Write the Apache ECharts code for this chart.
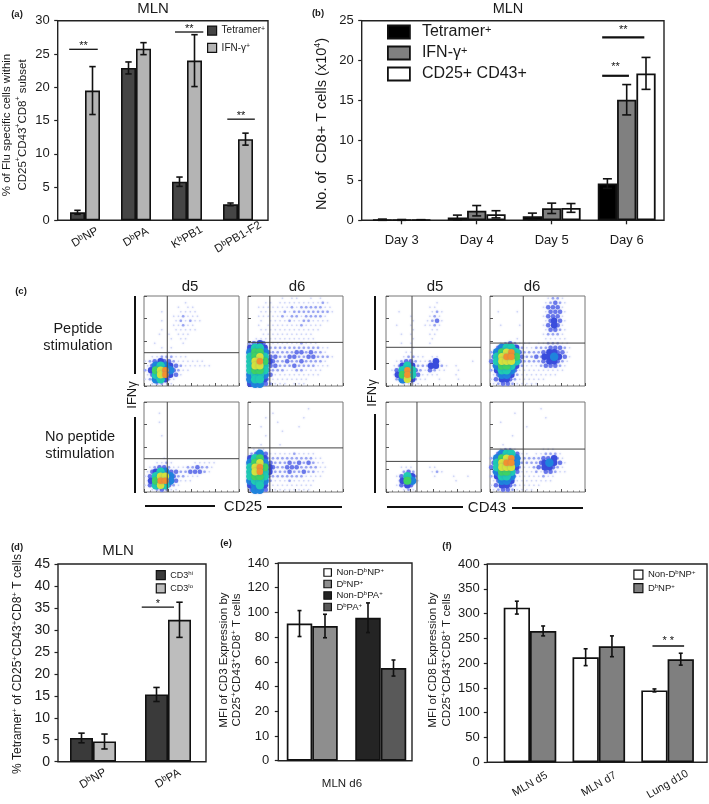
<!DOCTYPE html>
<html><head><meta charset="utf-8">
<style>html,body{margin:0;padding:0;background:#fff}#c{width:709px;height:804px}</style>
<script src="https://cdn.jsdelivr.net/npm/echarts@6/dist/echarts.min.js"></script>
</head><body><div id="c"></div>
<script>
// ---------- Panel (a)
const aCats = ['DbNP','DbPA','KbPB1','DbPB1-F2'];
const aTetramer = [1.2,22.9,5.8,2.4];
const aTetramerErr = [0.3,0.9,0.7,0.2];
const aIfn = [19.5,25.8,24,12.2];
const aIfnErr = [3.6,0.9,3.9,0.9];
// ---------- Panel (b)
const bCats = ['Day 3','Day 4','Day 5','Day 6'];
const bTetramer = [0.05,0.35,0.5,4.6];
const bTetramerErr = [0.1,0.3,0.4,0.6];
const bIfn = [0.05,1.2,1.5,15.1];
const bIfnErr = [0.05,0.65,0.65,1.9];
const bCd = [0.05,0.75,1.55,18.4];
const bCdErr = [0.03,0.45,0.55,2.0];
// ---------- Panel (d)
const dCats = ['DbNP','DbPA'];
const dHi = [5.4,15.3];
const dHiErr = [1.1,1.6];
const dLo = [4.6,32.3];
const dLoErr = [1.7,4];
// ---------- Panel (e)  (the printed axis is 0,10,20,40,... at equal spacing)
const eCats = ['MLN d6 NP','MLN d6 PA'];
const eTickLabels = ['0','10','20','40','60','80','100','120','140'];
const eNonNP = [91,null], eNonNPErr = [10.5,null];
const eNP = [89,null], eNPErr = [9.5,null];
const eNonPA = [null,95.7], eNonPAErr = [null,12];
const ePA = [null,55], ePAErr = [null,6.5];
// ---------- Panel (f)
const fCats = ['MLN d5','MLN d7','Lung d10'];
const fNon = [312,212,145];
const fNonErr = [13,17,3];
const fNP = [265,234,208];
const fNPErr = [10,21,12];
// ---------- Panel (c): quadrant percentages [upper-left, upper-right, lower-right]
const cPct = [['0.4','2.1','3.8'],['0.8','2.1','4.1'],['0.3','0.1','13'],['0.3','0.3','8.0'],
              ['0.6','1.6','4.3'],['0.3','1.7','6.8'],['0.4','0.2','7.5'],['0.2','0.4','11']];
// gates [vertical x, horizontal y], as axis fractions
const cGates = [[.245,.37],[.23,.485],[.245,.37],[.23,.49],[.274,.43],[.35,.477],[.326,.34],[.35,.477]];
// density, digit 0-9, top row first
const cD5PepCD25 = ['00000000000000000000','00000000100000000000','00000001011000000000','00010001111000000000','00000011211100000000','00010012121100000000','00000011211000000000','00010011111000000000','00010101110000000000','00000101100000000000','00100000100000000000','00010100000000000000','00000100000000000000','01122211100000000000','12343321111110000000','13565432111111000000','24789532110000000000','13689431000000000000','12564210000000000000','01221100000000000000'];
const cD6PepCD25 = ['00000001011001010000','00011011111111121000','00111111121222221100','00111112122222222100','00111112122122221000','00101111211221111000','00101111111211110000','00111111111111100000','00011111111111000000','01111111111111000000','23431111111211100000','46642222222222211000','57753222223323221000','67863322332233222100','68974322322322221000','68863322232222111000','67763222112211110000','56653111111111100000','56642111111110000000','45532111011100000000'];
const cD5NoCD25 = ['00000000000000000000','00000000000000000000','00010000000000000000','00000000000000000000','00010000000000000000','00000000000000000000','00000000000000000000','00010000000000000000','00000000000000000000','00000000000000000000','00000000000000000000','00000000000000000000','00001000000000000000','00112100001111100000','01233211122322100000','13465332233321000000','13688532211100000000','14799531110000000000','13686321000000000000','01232110000000000000'];
const cD6NoCD25 = ['00000000000000000000','00000000000010000000','00000100000000000000','00010000000100000000','00000010000000000000','00100000001000000000','00000001000000000000','00010000000000000000','00000000000000000000','00100010000000000000','01110000000000000000','23531111121111000000','46742222222222110000','57853222323232110000','68974322333222211000','68964222322322110000','67763222222211110000','56652111211111000000','45641111111111000000','35531111111110000000'];
const cD5PepCD43 = ['00000000000000000000','00000000001000000000','00000000011000000000','00100000012100000000','00000100012100000000','00000100123100000000','00100100112100000000','00000100011000000000','00010100011000000000','00000100010000000000','00010100010000000000','00000100000000000000','00001100000000000000','00012211011000000000','00123321124100000010','01246422244210100000','01369632132110010000','01479631111000100000','00258421100100010000','00011110000000000000'];
const cD6PepCD43 = ['00000000000012210000','00000000000123210000','00000000000133310000','01000100000133310000','00000000000133310000','00000000000134310000','00100010000134310000','00000000000133210000','00000000000122210000','00000100000111110000','00123211101122211000','03566421122233321000','25789632222344331000','36899732232445431000','36888632222344321000','25776421112333210000','24665311111111110000','13554211111111000000','13443211111100000000','12332111110000000000'];
const cD5NoCD43 = ['00000000000000000000','00000000000000000000','00000000000000000000','00000000000000000000','00000000000000000000','00000000000000000000','00000000000000000000','00000000000000000000','00000000000000000000','00000000000000000000','00000000000000000000','00000000000000000000','00000000000000000000','00000000000000000000','00011100011000000000','00023200012100000000','00136420001000100100','00147510000000100000','00134300000000000000','00012100000000000000'];
const cD6NoCD43 = ['00000000000000000000','00000000001000000000','00000100000000000000','00000000000100000000','00100000000000000000','00000001000000000000','00000000000000000000','00001000000000000000','00000000000000000000','00100000000000000000','00122100000111000000','03566311011222100000','25789522222334210000','36899522223454310000','36888421123443210000','25776311121332110000','24665211111211000000','13554111111110000000','13443211111000000000','12332111100000000000'];
const cDensities = [cD5PepCD25,cD6PepCD25,cD5NoCD25,cD6NoCD25,cD5PepCD43,cD6PepCD43,cD5NoCD43,cD6NoCD43];

// ---------- rendering helpers
const FONT = 'Liberation Sans';
const RICH = {
  'DbNP':'D{sup|b}NP','DbPA':'D{sup|b}PA','KbPB1':'K{sup|b}PB1','DbPB1-F2':'D{sup|b}PB1-F2',
  'Tetramer+':'Tetramer{sup|+}','IFN-γ+':'IFN-γ{sup|+}',
  'CD3hi':'CD3{sup|hi}','CD3lo':'CD3{sup|lo}',
  'Non-DbNP+':'Non-D{sup|b}NP{sup|+}','DbNP+':'D{sup|b}NP{sup|+}',
  'Non-DbPA+':'Non-D{sup|b}PA{sup|+}','DbPA+':'D{sup|b}PA{sup|+}'
};
// every run of plain text becomes a {t|...} token so that it carries the font
const wrap = s => s.split(/(\{sup\|[^}]*\})/).map(p=>(!p||p.startsWith('{sup'))?p:'{t|'+p+'}').join('');
const rich = s => wrap(RICH[s.trim()] || s.trim());
const richStyle = (size,supSize) => ({
  t:{fontSize:size,fontFamily:FONT,color:'#1a1a1a'},
  sup:{fontSize:supSize||Math.round(size*.68),fontFamily:FONT,verticalAlign:'top',lineHeight:supSize||Math.round(size*.68),color:'#1a1a1a'}});

const grids=[],xAxes=[],yAxes=[],series=[],legends=[],graphics=[];

function text(t,x,y,o){ o=o||{};
  const size=o.size||13;
  graphics.push({type:'text',x:x,y:y,rotation:o.rot||0,z:20,silent:true,
    style:{text:t,fontFamily:FONT,fontSize:size,fontWeight:o.weight||'normal',fill:o.fill||'#1a1a1a',
      align:o.align||'center',verticalAlign:'middle',textAlign:o.align||'center',textVerticalAlign:'middle',
      lineHeight:o.lh||Math.round(size*1.2),
      rich:{sup:{fontSize:o.sup||Math.round(size*.65),fontFamily:FONT,verticalAlign:'top',lineHeight:o.sup||Math.round(size*.65),fill:'#1a1a1a'}}}});
}
function line(x1,y1,x2,y2,w){
  graphics.push({type:'line',z:20,silent:true,shape:{x1,y1,x2,y2},style:{stroke:'#111',lineWidth:w||2}});
}
function barPanel(p){
  const i=grids.length, f=p.frame;
  grids.push({left:p.gridLeft,width:p.gridWidth,top:f.t,height:f.b-f.t,show:false});
  graphics.push({type:'rect',z:1,silent:true,shape:{x:f.l,y:f.t,width:f.r-f.l,height:f.b-f.t},
    style:{fill:'none',stroke:'#222',lineWidth:p.frameW||1.4}});
  xAxes.push({gridIndex:i,type:'category',data:p.cats,axisLine:{show:false},
    axisTick:{show:!!p.xTicks,length:4,alignWithLabel:true,lineStyle:{color:'#222',width:1.3}},
    axisLabel:p.xLabel?Object.assign({interval:0,hideOverlap:false,fontFamily:FONT,color:'#1a1a1a',
      formatter:v=>rich(v),rich:richStyle(p.xLabel.fontSize||11)},p.xLabel):{show:false}});
  yAxes.push({gridIndex:i,type:'value',min:0,max:p.yMax,interval:p.interval,offset:p.gridLeft-f.l,
    axisLine:{show:false},splitLine:{show:false},
    axisTick:{show:true,length:3.5,lineStyle:{color:'#222',width:1.2}},
    axisLabel:{fontFamily:FONT,fontSize:p.yFont||13,color:'#1a1a1a',margin:p.yMargin||8,
      formatter:p.tickLabels?(v=>p.tickLabels[Math.round(v/p.interval)]):undefined}});
  const n=p.slots||p.series.length;
  p.series.forEach((s,k)=>{
    const slot=s.slot!==undefined?s.slot:k;
    series.push({type:'bar',name:s.name,xAxisIndex:i,yAxisIndex:i,data:s.data,stack:s.stack,barWidth:p.barW,barGap:0,z:3,
      itemStyle:{color:s.color,borderColor:'#111',borderWidth:p.barBorder||1.6},silent:true});
    const offs=(slot-(n-1)/2)*p.barW;
    series.push({type:'custom',xAxisIndex:i,yAxisIndex:i,z:5,clip:false,silent:true,
      encode:{x:0,y:1},
      data:s.data.map((v,c)=>v==null?null:[c,v,s.err[c]]).filter(Boolean),
      renderItem:(params,api)=>{
        const c=api.value(0),v=api.value(1),e=api.value(2);
        const a=api.coord([c,v-e<0?0:v-e]),b=api.coord([c,v+e]);
        const x=a[0]+offs,h=p.capW||3.2,st={stroke:'#111',lineWidth:p.errW||1.6,fill:'none'};
        return {type:'group',children:[
          {type:'line',shape:{x1:x,y1:a[1],x2:x,y2:b[1]},style:st},
          {type:'line',shape:{x1:x-h,y1:a[1],x2:x+h,y2:a[1]},style:st},
          {type:'line',shape:{x1:x-h,y1:b[1],x2:x+h,y2:b[1]},style:st}]};
      }});
  });
  (p.sig||[]).forEach(g=>{
    series.push({type:'custom',xAxisIndex:i,yAxisIndex:i,z:6,clip:false,silent:true,encode:{x:0,y:1},
      data:[[g.cat,g.y]],
      renderItem:(params,api)=>{
        const o=api.coord([api.value(0),api.value(1)]),w=api.size([1,0])[0];
        const x1=o[0]+g.from*w,x2=o[0]+g.to*w;
        return {type:'group',children:[
          {type:'line',shape:{x1:x1,y1:o[1],x2:x2,y2:o[1]},style:{stroke:'#111',lineWidth:g.w||1.3}},
          {type:'text',x:(x1+x2)/2,y:o[1]-(g.dy||3),style:{text:g.label,fontFamily:FONT,fontSize:g.size||11,fill:'#111',align:'center',verticalAlign:'middle',textAlign:'center',textVerticalAlign:'middle'}}]};
      }});
  });
  if(p.legend){ const L=p.legend;
    legends.push({left:L.left,top:L.top,orient:'vertical',padding:0,itemWidth:L.w,itemHeight:L.h,itemGap:L.gap,icon:'rect',selectedMode:false,
      data:p.series.map(s=>({name:s.name,icon:'rect',itemStyle:{color:s.color,borderColor:'#111',borderWidth:L.bw||1.2,opacity:1}})),
      formatter:n=>rich(n),
      textStyle:{fontFamily:FONT,fontSize:L.font,color:'#1a1a1a',padding:[0,0,0,L.pad||0],rich:richStyle(L.font)}});
  }
}
const LEVEL_COLORS=['','#cdd4f8','#98a4f2','#6a78ea','#3a4ddc','#1f84dc','#1fcbb2','#3ed264','#d4e23c','#f29030'];
const LEVEL_SIZES=[0,1.6,2.6,4.5,6.5,8.5,8.5,8,7.5,6.5];
function flowPanel(idx,l,t,w,h,pctRow){
  const i=grids.length;
  grids.push({left:l,top:t,width:w,height:h,show:true,borderColor:'#777',borderWidth:1,backgroundColor:'#fff'});
  const ax={gridIndex:i,type:'value',min:0,max:1,interval:.25,axisLine:{show:false},splitLine:{show:false},axisLabel:{show:false},
    axisTick:{show:true,inside:true,length:3,lineStyle:{color:'#555',width:1}}};
  xAxes.push(Object.assign({},ax,{minorTick:{show:true,splitNumber:4,length:1.5,lineStyle:{color:'#777'}}}));
  yAxes.push(Object.assign({},ax));
  const rows=cDensities[idx],pts=[];
  rows.forEach((r,ry)=>{ r.split('').forEach((ch,cx)=>{
    const lv=+ch; if(!lv) return;
    const stagger=(ry%2)?.25:-.25;
    pts.push([Math.min(.995,Math.max(.005,(cx+.5+(lv<4?stagger:0))/20)),1-(ry+.5)/20,lv]);
  });});
  pts.sort((a,b)=>a[2]-b[2]);
  series.push({type:'scatter',xAxisIndex:i,yAxisIndex:i,data:pts,z:2,silent:true,large:false,progressive:0,clip:true,
    symbolSize:d=>LEVEL_SIZES[d[2]],itemStyle:{color:q=>LEVEL_COLORS[q.data[2]],opacity:1,
      shadowBlur:2,shadowColor:'rgba(60,80,220,.3)'}});
  const g=cGates[idx];
  series.push({type:'custom',xAxisIndex:i,yAxisIndex:i,z:4,silent:true,encode:{x:0,y:1},data:[g],
    renderItem:(params,api)=>{
      const gx=api.value(0),gy=api.value(1),s={stroke:'#444',lineWidth:1};
      const a=api.coord([gx,0]),b=api.coord([gx,1]),c=api.coord([0,gy]),d=api.coord([1,gy]);
      return {type:'group',children:[{type:'line',shape:{x1:a[0],y1:a[1],x2:b[0],y2:b[1]},style:s},{type:'line',shape:{x1:c[0],y1:c[1],x2:d[0],y2:d[1]},style:s}]};
    }});
  const topY=pctRow?.92:.89, lowY=pctRow?.12:.11, pv=cPct[idx];
  const lab=(val,x,y,al)=>({value:[x,y],label:{show:true,formatter:val,position:'inside',align:al,fontFamily:FONT,fontSize:11,color:'#1a1a1a'}});
  series.push({type:'scatter',xAxisIndex:i,yAxisIndex:i,z:6,silent:true,symbolSize:1,itemStyle:{opacity:0},
    data:[lab(pv[0],.045,topY,'left'),lab(pv[1],.965,topY,'right'),lab(pv[2],.965,lowY,'right')]});
}

// ---------- panels
barPanel({frame:{l:57.7,r:268,t:20.7,b:220.3},gridLeft:59.5,gridWidth:204,cats:aCats,yMax:30,interval:5,yFont:13,yMargin:8,barW:15,
  xLabel:{rotate:30,align:'center',verticalAlign:'middle',fontSize:11.5,margin:17},
  series:[{name:'Tetramer+',data:aTetramer,err:aTetramerErr,color:'#454545'},{name:'IFN-γ+',data:aIfn,err:aIfnErr,color:'#b4b4b4'}],
  sig:[{cat:0,y:25.7,from:-.31,to:.25,label:'**'},{cat:2,y:28.3,from:-.235,to:.32,label:'**'},{cat:3,y:15.2,from:-.21,to:.33,label:'**'}],
  legend:{left:207,top:25.5,w:9,h:9,gap:7,font:10,pad:0}});
barPanel({frame:{l:361.7,r:664,t:20.7,b:220.3},gridLeft:364.2,gridWidth:300,cats:bCats,yMax:25,interval:5,yFont:13,yMargin:8,barW:19.3,barBorder:1.8,capW:4.5,
  xLabel:{fontSize:13,margin:14},xTicks:true,
  series:[{name:'Tetramer+ ',data:bTetramer,err:bTetramerErr,color:'#000'},{name:'IFN-γ+ ',data:bIfn,err:bIfnErr,color:'#808080'},{name:'CD25+ CD43+',data:bCd,err:bCdErr,color:'#fff'}],
  sig:[{cat:3,y:22.9,from:-.327,to:.235,label:'**',w:2.2,dy:7},{cat:3,y:18.1,from:-.327,to:.03,label:'**',w:2.2,dy:9}],
  legend:{left:387,top:24,w:22,h:13,gap:5,font:16,pad:7,bw:1.8}});
barPanel({frame:{l:58,r:206,t:564,b:761.7},gridLeft:55.5,gridWidth:150,cats:dCats,yMax:45,interval:5,yFont:14,yMargin:8,barW:23,
  xLabel:{rotate:30,align:'center',verticalAlign:'middle',fontSize:11.5,margin:17},
  series:[{name:'CD3hi',data:dHi,err:dHiErr,color:'#3a3a3a'},{name:'CD3lo',data:dLo,err:dLoErr,color:'#bdbdbd'}],
  sig:[{cat:1,y:35.2,from:-.35,to:.08,label:'*'}],
  legend:{left:155.7,top:570,w:9,h:9,gap:3,font:9,pad:0}});
const eMap=v=>v==null?null:(v>=20?v+20:v*2);
const eErr=(v,e)=>v==null?null:eMap(v+e)-eMap(v);
barPanel({frame:{l:278.3,r:412,t:563,b:760.7},gridLeft:278,gridWidth:137,cats:eCats,yMax:160,interval:20,tickLabels:eTickLabels,yFont:13,yMargin:9,barW:25.5,slots:2,barBorder:1.7,capW:2,
  series:[{name:'Non-DbNP+',data:eNonNP.map(eMap),err:eNonNP.map((v,c)=>eErr(v,eNonNPErr[c])),color:'#fff',stack:'L',slot:0},
          {name:'DbNP+',data:eNP.map(eMap),err:eNP.map((v,c)=>eErr(v,eNPErr[c])),color:'#8e8e8e',stack:'R',slot:1},
          {name:'Non-DbPA+',data:eNonPA.map(eMap),err:eNonPA.map((v,c)=>eErr(v,eNonPAErr[c])),color:'#242424',stack:'L',slot:0},
          {name:'DbPA+',data:ePA.map(eMap),err:ePA.map((v,c)=>eErr(v,ePAErr[c])),color:'#595959',stack:'R',slot:1}],
  legend:{left:323.3,top:567.5,w:7.5,h:7.5,gap:1.5,font:9.5,pad:0}});
barPanel({frame:{l:487.3,r:707,t:564,b:762.3},gridLeft:495.6,gridWidth:206.4,cats:fCats,yMax:400,interval:50,yFont:13,yMargin:7.5,barW:26.3,barBorder:1.7,capW:2,
  xLabel:{rotate:30,align:'center',verticalAlign:'middle',fontSize:11,margin:22},
  series:[{name:'Non-DbNP+ ',data:fNon,err:fNonErr,color:'#fff'},{name:'DbNP+ ',data:fNP,err:fNPErr,color:'#7f7f7f'}],
  sig:[{cat:2,y:234.6,from:-.22,to:.24,label:'* *',dy:5}],
  legend:{left:633.3,top:569.5,w:9,h:9,gap:3.3,font:9.5,pad:0}});

// flow plots
[[144,296,0],[248,296,0],[144,402,1],[248,402,1],[386,296,0],[490,296,0],[386,402,1],[490,402,1]].forEach((q,k)=>flowPanel(k,q[0],q[1],95,90,q[2]));

// titles, axis captions
text('MLN',153,9,{size:15});
text('MLN',508,9,{size:14.5});
text('MLN',118,551,{size:15});
[['(a)',17,14],['(b)',318,13],['(c)',21,291],['(d)',17,547],['(e)',226,543],['(f)',447,546]].forEach(a=>text(a[0],a[1],a[2],{size:9.5,weight:'bold'}));
text('% of Flu specific cells within\nCD25{sup|+}CD43{sup|+}CD8{sup|+} subset',15,125,{size:11.5,rot:Math.PI/2,lh:15.5});
text('No. of  CD8+ T cells (x10{sup|4})',322,124,{size:14.5,rot:Math.PI/2});
text('% Tetramer{sup|+} of CD25{sup|+}CD43{sup|+}CD8{sup|+} T cells',18,664,{size:12,rot:Math.PI/2});
text('MFI of CD3 Expression by\nCD25{sup|+}CD43{sup|+}CD8{sup|+} T cells',230,660,{size:11.6,rot:Math.PI/2,lh:12.7});
text('MFI of CD8 Expression by\nCD25{sup|+}CD43{sup|+}CD8{sup|+} T cells',440,660,{size:11.6,rot:Math.PI/2,lh:13.7});
text('MLN d6',342,784,{size:11.5});
text('d5',190,287,{size:15});text('d6',297,287,{size:15});text('d5',435,287,{size:15});text('d6',532,287,{size:15});
text('Peptide\nstimulation',78,337,{size:14.5,lh:17});
text('No peptide\nstimulation',80,445,{size:14.5,lh:17});
text('IFNγ',132,395,{size:13,rot:Math.PI/2});
text('IFNγ',372,393,{size:13,rot:Math.PI/2});
text('CD25',243,507,{size:15});
text('CD43',487,508,{size:15});
line(135,296,135,374);line(135,417,135,493);line(145,506,215,506);line(267,507,342,507);
line(375,296,375,370);line(375,414,375,493);line(387,507,463,507);line(512,508,583,508);

const chart=echarts.init(document.getElementById('c'),null,{renderer:'canvas'});
chart.setOption({animation:false,backgroundColor:'#fff',textStyle:{fontFamily:FONT},tooltip:{show:false},
  grid:grids,xAxis:xAxes,yAxis:yAxes,series:series,legend:legends,graphic:{elements:graphics}});
</script></body></html>
